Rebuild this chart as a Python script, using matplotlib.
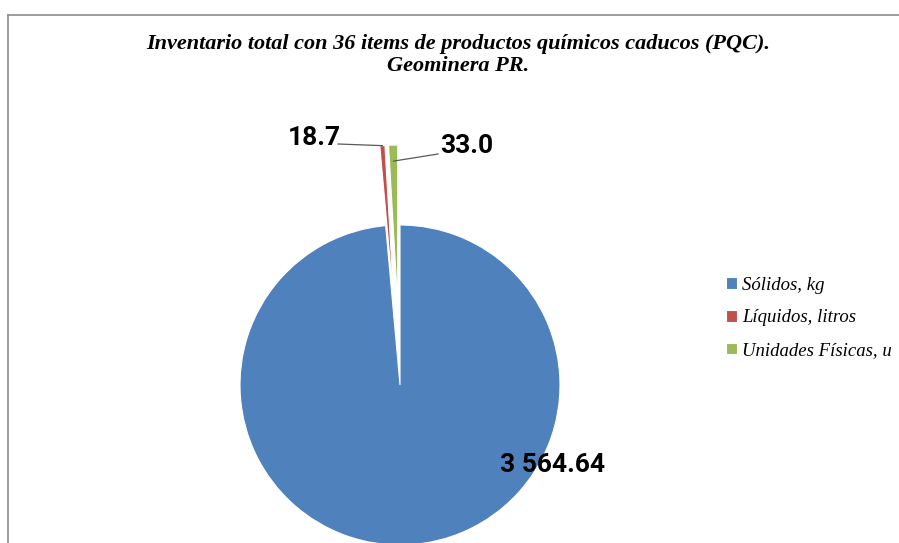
# 폐기 화학제품 재고 파이 차트
import numpy as np
import matplotlib.pyplot as plt
from matplotlib.lines import Line2D

# 1) 데이터
categories = ["Sólidos, kg", "Líquidos, litros", "Unidades Físicas, u"]
values = [3564.64, 18.7, 33.0]
decimals = [2, 1, 1]
colors = ["#4F81BD", "#C0504D", "#9BBB59"]
explode = [0, 0.5, 0.5]

title = "Inventario total con 36 items de productos químicos caducos (PQC).\nGeominera PR."

# 2) 그림 (899 x 543 px)
fig = plt.figure(figsize=(8.99, 5.43), dpi=100)
ax = fig.add_axes([0, 0, 1, 1])

# 파이 차트: 반지름 1 = 160 px
R = 160.0
cx, cy = 400.0, 385.0  # 파란 조각 꼭짓점 (픽셀)

wedges, _ = ax.pie(values, colors=colors, explode=explode, startangle=90,
                   counterclock=False, radius=1,
                   wedgeprops=dict(edgecolor="white", linewidth=0.8))
ax.set_aspect("auto")
ax.set_xlim(-cx / R, (899 - cx) / R)
ax.set_ylim(-(543 - cy) / R, cy / R)
ax.axis("off")

# 3) 라벨
def label_text(v, d):
    return f"{v:,.{d}f}".replace(",", " ")

label_font = dict(family=["Liberation Sans Narrow", "Roboto", "DejaVu Sans"],
                  fontweight="bold", fontstretch="condensed", fontsize=19, color="black")

def px(x, y):
    return ((x - cx) / R, (cy - y) / R)

# 큰 조각 라벨
ax.text(*px(553, 465), label_text(values[0], decimals[0]),
        ha="center", va="center", **label_font)

# 작은 조각 라벨 + 지시선
text_pos = [None, px(314, 138), px(467, 146)]
line_end = [None, px(338, 144), px(438, 154)]
attach_r = [None, 1.0, 0.9]
for i in (1, 2):
    w = wedges[i]
    mid = np.deg2rad((w.theta1 + w.theta2) / 2)
    x0 = w.center[0] + attach_r[i] * np.cos(mid)
    y0 = w.center[1] + attach_r[i] * np.sin(mid)
    ex, ey = line_end[i]
    ax.plot([x0, ex], [y0, ey], color="#595959", linewidth=0.9)
    ax.text(*text_pos[i], label_text(values[i], decimals[i]),
            ha="center", va="center", **label_font)

# 4) 제목
fig.text(458 / 899, 1 - 55 / 543, title, ha="center", va="center",
         family=["Liberation Serif", "DejaVu Serif"], fontstyle="italic",
         fontweight="bold", fontsize=16, linespacing=1.15)

# 5) 범례
leg = fig.legend(wedges, categories, loc="center left",
                 bbox_to_anchor=(717 / 899, 1 - 318 / 543), frameon=False,
                 borderpad=0, handlelength=0.55, handleheight=0.55,
                 handletextpad=0.3, labelspacing=0.85,
                 prop=dict(family=["Liberation Serif", "DejaVu Serif"],
                           style="italic", size=13.5))

# 6) 차트 테두리
fig.add_artist(Line2D([8 / 899, 1], [1 - 15 / 543] * 2, color="#8c8c8c",
                      linewidth=1.2, transform=fig.transFigure))
fig.add_artist(Line2D([8 / 899] * 2, [0, 1 - 15 / 543], color="#8c8c8c",
                      linewidth=1.2, transform=fig.transFigure))

fig.savefig("out.png", dpi=100, facecolor="white")
